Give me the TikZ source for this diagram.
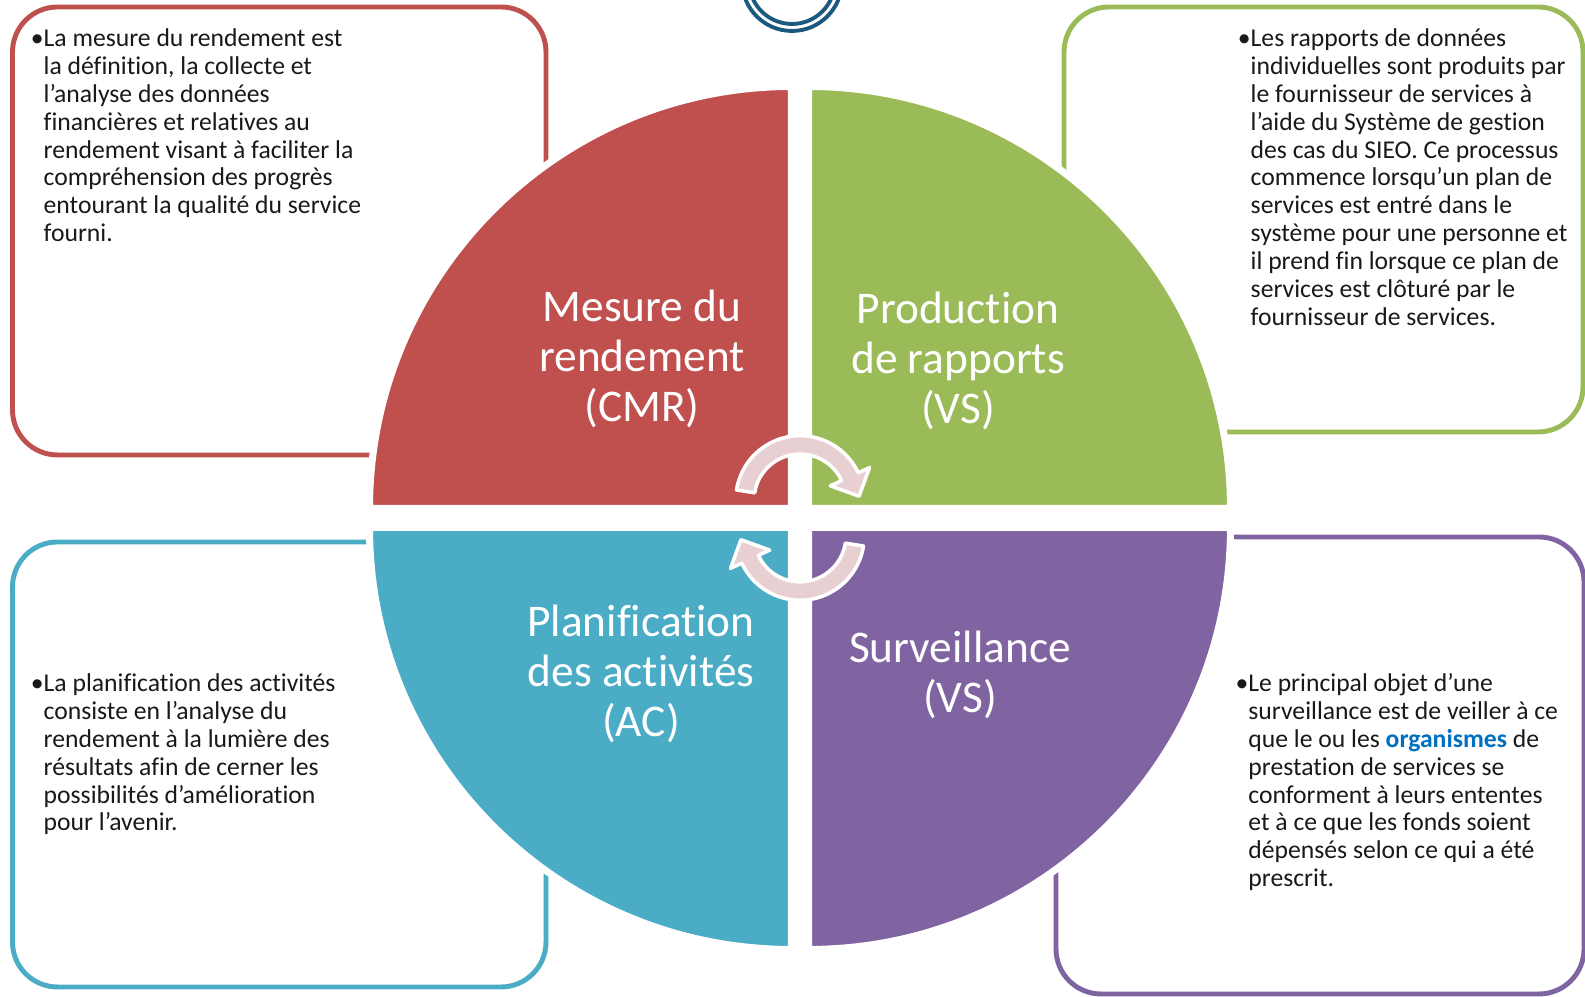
\documentclass[tikz,border=0pt]{standalone}
\usepackage{fontspec}
\setmainfont{Carlito}[Ligatures=NoCommon]
\usetikzlibrary{calc}
\definecolor{qred}{HTML}{C0504D}
\definecolor{qgreen}{HTML}{9BBB59}
\definecolor{qblue}{HTML}{4BACC6}
\definecolor{qpurple}{HTML}{8064A2}
\definecolor{ringblue}{HTML}{1B5A7E}
\definecolor{arrowpink}{HTML}{E8D0D2}
\definecolor{linkblue}{HTML}{0070C0}
\def\cyclearrow(#1)(#2){\begin{scope}[shift={(#1)}, rotate=#2, scale=1.08]
	\draw[cycarrow] (171:0.595) arc[start angle=171, end angle=25, radius=0.595] -- (25:0.71) -- (3.6:0.548) -- (25:0.31) -- (25:0.425) arc[start angle=25, end angle=171, radius=0.425] -- cycle;
	\end{scope}}
\tikzset{
	infobox/.style={line width=1.4pt, rounded corners=0.45cm, fill=white},
	quad/.style={draw=white, line width=2pt},
	title/.style={text=white, align=center, inner sep=0pt, font=\fontsize{12.9}{14.2}\selectfont},
	bodytext/.style={anchor=base west, align=left, inner sep=0pt, text=black!90, font=\fontsize{7.3}{7.93}\selectfont},
	cycarrow/.style={fill=arrowpink, draw=white, line width=1pt, line join=round},
	ring/.style={draw=ringblue, line width=1.1pt}
}

\begin{document}
\begin{tikzpicture}
		%%%%% START %%%%%
		\useasboundingbox (0,0) rectangle (15.85,9.97);
		\clip (0,0) rectangle (15.85,9.97);
		
		\draw[infobox, draw=qred] (0.125,5.42) rectangle (5.46,9.90);
		\draw[infobox, draw=qgreen] (10.64,5.65) rectangle (15.83,9.90);
		\draw[infobox, draw=qblue] (0.125,0.10) rectangle (5.46,4.55);
		\draw[infobox, draw=qpurple] (10.56,0.03) rectangle (15.84,4.60);
		
		\draw[quad, fill=qred] (7.915,4.885) -- ++(-4.22,0) arc[start angle=180, end angle=90, radius=4.22] -- cycle;
		\draw[quad, fill=qgreen] (8.085,4.885) -- ++(0,4.22) arc[start angle=90, end angle=0, radius=4.22] -- cycle;
		\draw[quad, fill=qblue] (7.915,4.695) -- ++(0,-4.22) arc[start angle=270, end angle=180, radius=4.22] -- cycle;
		\draw[quad, fill=qpurple] (8.085,4.695) -- ++(4.22,0) arc[start angle=0, end angle=-90, radius=4.22] -- cycle;
		
		\cyclearrow(8,4.97)(0)
		\cyclearrow(8,4.61)(180)
		
		\draw[ring] (7.92,10.16) circle (0.50);
		\draw[ring] (7.92,10.16) circle (0.43);
		
		\node[title] (mesure) at (6.42,6.38) {Mesure du\\rendement\\(CMR)};
		\node[title] (production) at (9.58,6.36) {Production\\de rapports\\(VS)};
		\node[title] (planif) at (6.41,3.23) {Planification\\des activités\\(AC)};
		\node[title] (surv) at (9.60,3.22) {Surveillance\\(VS)};
		
		% base = last line
		\node[bodytext] (mesuretxt) at (0.43,7.553) {\llap{\textbullet}La mesure du rendement est\\la définition, la collecte et\\l’analyse des données\\financières et relatives au\\rendement visant à faciliter la\\compréhension des progrès\\entourant la qualité du service\\fourni.};
		\node[bodytext] (productiontxt) at (12.50,6.717) {\llap{\textbullet}Les rapports de données\\individuelles sont produits par\\le fournisseur de services à\\l’aide du Système de gestion\\des cas du SIEO. Ce processus\\commence lorsqu’un plan de\\services est entré dans le\\système pour une personne et\\il prend fin lorsque ce plan de\\services est clôturé par le\\fournisseur de services.};
		\node[bodytext] (planiftxt) at (0.43,1.66) {\llap{\textbullet}La planification des activités\\consiste en l’analyse du\\rendement à la lumière des\\résultats afin de cerner les\\possibilités d’amélioration\\pour l’avenir.};
		\node[bodytext] (survtxt) at (12.477,1.103) {\llap{\textbullet}Le principal objet d’une\\surveillance est de veiller à ce\\que le ou les \textbf{\color{linkblue}organismes} de\\prestation de services se\\conforment à leurs ententes\\et à ce que les fonds soient\\dépensés selon ce qui a été\\prescrit.};
		
		%%%%% END %%%%%
	\end{tikzpicture}
\end{document}
